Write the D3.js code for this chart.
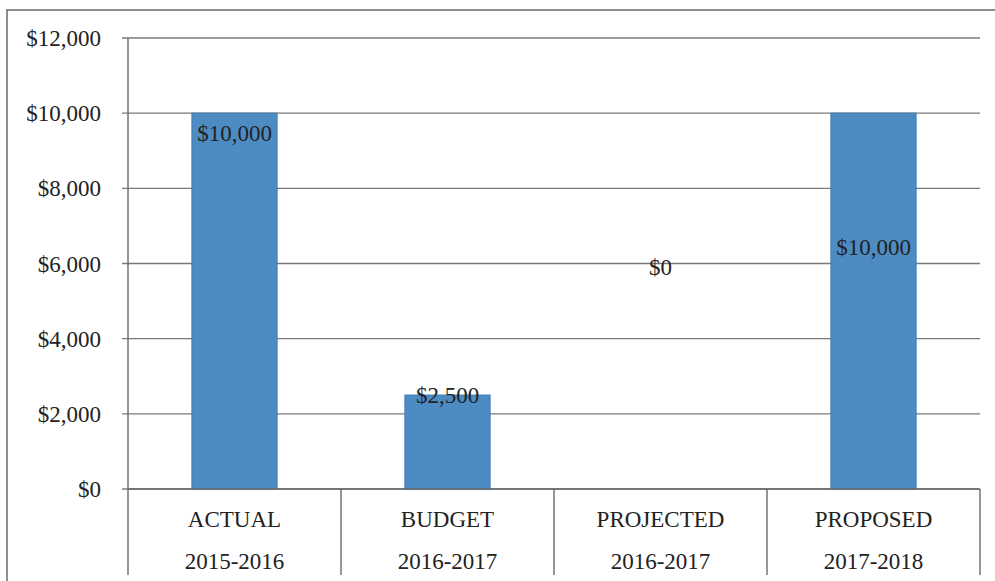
<!DOCTYPE html>
<html>
<head>
<meta charset="utf-8">
<script src="https://cdn.jsdelivr.net/npm/d3@7"></script>
<style>
  html, body { margin: 0; padding: 0; background: #fff; }
  svg { display: block; }
  text { font-family: "Liberation Serif", "Times New Roman", serif; fill: #222; }
</style>
</head>
<body>
<svg id="chart" width="995" height="581"></svg>
<script>
// ---- data ----
const categories = ["ACTUAL", "BUDGET", "PROJECTED", "PROPOSED"];
const years = ["2015-2016", "2016-2017", "2016-2017", "2017-2018"];
const values = [10000, 2500, 0, 10000];
const labelTexts = ["$10,000", "$2,500", "$0", "$10,000"];
// data-unit anchors where the value labels sit in the original
const labelAnchors = [9470, 2500, 5900, 6440];
const yTicks = [0, 2000, 4000, 6000, 8000, 10000, 12000];

// ---- layout ----
const plotLeft = 128, plotRight = 980, plotTop = 38, plotBottom = 489;
const svg = d3.select("#chart");

// frame
svg.append("rect").attr("x", 7).attr("y", 10).attr("width", 1000).attr("height", 600)
  .attr("fill", "none").attr("stroke", "#6a6a6a").attr("stroke-width", 1.5);

const x = d3.scaleBand().domain(d3.range(categories.length)).range([plotLeft, plotRight])
  .paddingInner(0.6).paddingOuter(0.3);
const xCat = d3.scaleBand().domain(d3.range(categories.length)).range([plotLeft, plotRight]).padding(0);
const y = d3.scaleLinear().domain([0, 12000]).range([plotBottom, plotTop]);

// gridlines
svg.append("g").selectAll("line").data(yTicks).join("line")
  .attr("x1", plotLeft - 6).attr("x2", plotRight)
  .attr("y1", d => y(d)).attr("y2", d => y(d))
  .attr("stroke", "#7a7a7a").attr("stroke-width", 1.4);

// y axis labels
const fmt = d => "$" + d3.format(",")(d);
svg.append("g").selectAll("text").data(yTicks).join("text")
  .attr("x", 101).attr("y", d => y(d)).attr("dy", "0.35em")
  .attr("text-anchor", "end").attr("font-size", 23).text(fmt);

// bars
svg.append("g").selectAll("rect").data(values).join("rect")
  .attr("x", (d, i) => x(i)).attr("width", x.bandwidth())
  .attr("y", d => y(d)).attr("height", d => y(0) - y(d))
  .attr("fill", "#4d8cc3").attr("stroke", "#3d7cb3").attr("stroke-width", 1);

// y axis line
svg.append("line").attr("x1", plotLeft).attr("x2", plotLeft).attr("y1", plotTop).attr("y2", 575)
  .attr("stroke", "#6a6a6a").attr("stroke-width", 1.4);

// category separators
const seps = d3.range(categories.length).map(i => xCat(i) + xCat.bandwidth());
svg.append("g").selectAll("line").data(seps).join("line")
  .attr("x1", d => d).attr("x2", d => d).attr("y1", plotBottom).attr("y2", 575)
  .attr("stroke", "#6a6a6a").attr("stroke-width", 1.4);

// x-axis baseline
svg.append("line").attr("x1", plotLeft).attr("x2", plotRight).attr("y1", plotBottom).attr("y2", plotBottom)
  .attr("stroke", "#6a6a6a").attr("stroke-width", 1.4);

// category labels
const cx = i => xCat(i) + xCat.bandwidth() / 2;
svg.append("g").selectAll("text").data(categories).join("text")
  .attr("x", (d, i) => cx(i)).attr("y", 519).attr("dy", "0.35em")
  .attr("text-anchor", "middle").attr("font-size", 23).text(d => d);
svg.append("g").selectAll("text").data(years).join("text")
  .attr("x", (d, i) => cx(i)).attr("y", 561).attr("dy", "0.35em")
  .attr("text-anchor", "middle").attr("font-size", 23).text(d => d);

// value labels
svg.append("g").selectAll("text").data(labelTexts).join("text")
  .attr("x", (d, i) => cx(i)).attr("y", (d, i) => y(labelAnchors[i])).attr("dy", "0.35em")
  .attr("text-anchor", "middle").attr("font-size", 23).text(d => d);
</script>
</body>
</html>
